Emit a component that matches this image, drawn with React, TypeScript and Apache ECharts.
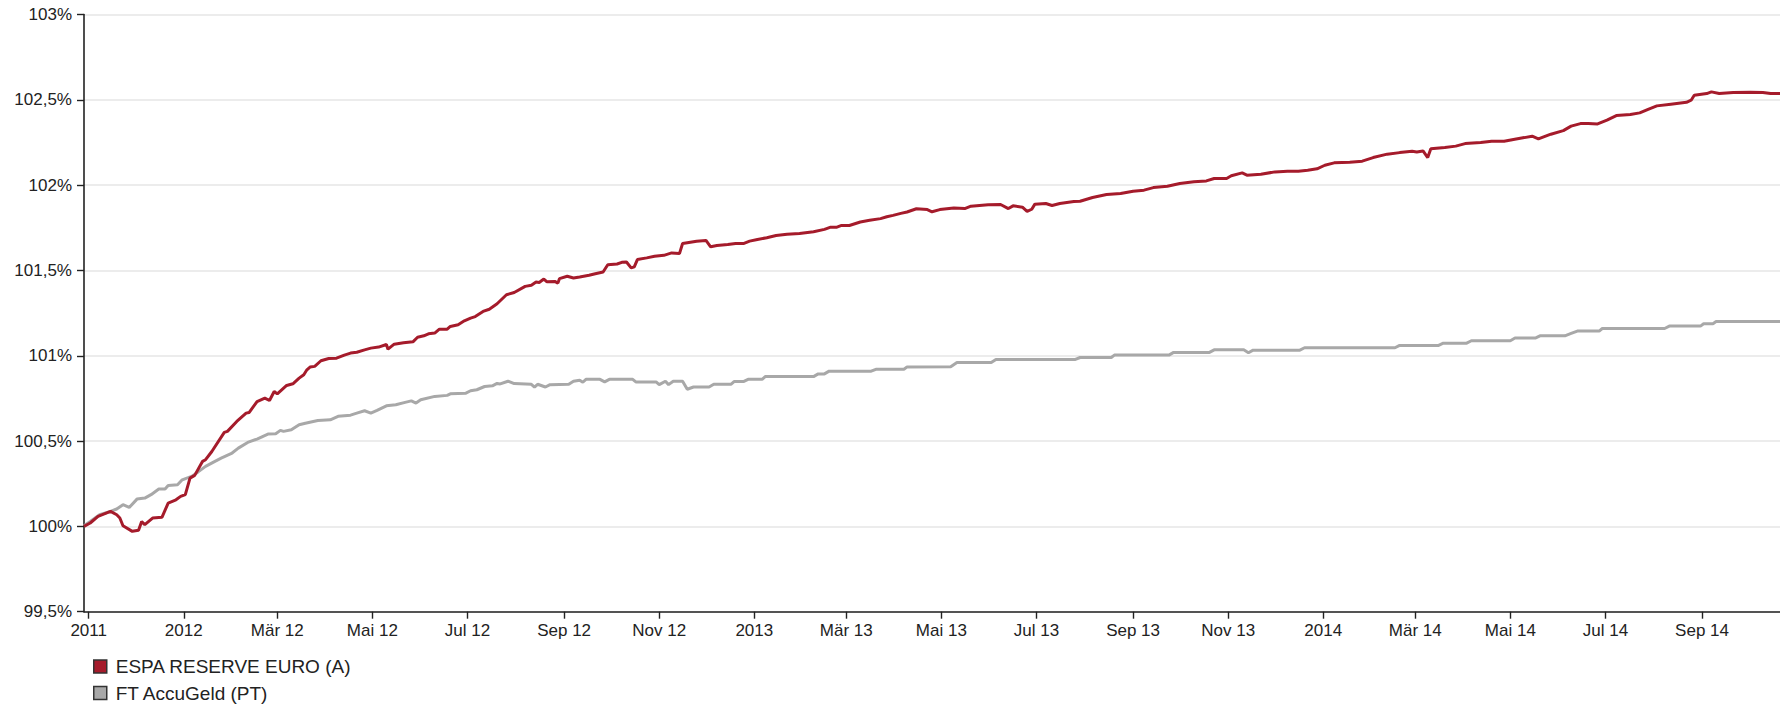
import React, { useEffect, useRef } from 'react';
import * as echarts from 'echarts';

const seriesNames = ['ESPA RESERVE EURO (A)', 'FT AccuGeld (PT)'];
const seriesColors = ['#a51b2b', '#a8a8a8'];

const espaData: [string, number][] = [
  ['2011-10-29', 100.0], ['2011-11-02', 100.02], ['2011-11-07', 100.059], ['2011-11-15', 100.088],
  ['2011-11-19', 100.068], ['2011-11-21', 100.049], ['2011-11-23', 100.004], ['2011-11-29', 99.971],
  ['2011-12-03', 99.977], ['2011-12-05', 100.029], ['2011-12-07', 100.01], ['2011-12-12', 100.049],
  ['2011-12-18', 100.053], ['2011-12-22', 100.137], ['2011-12-27', 100.156], ['2011-12-30', 100.176],
  ['2012-01-02', 100.186], ['2012-01-05', 100.283], ['2012-01-08', 100.299], ['2012-01-13', 100.381],
  ['2012-01-15', 100.391], ['2012-01-19', 100.439], ['2012-01-27', 100.551], ['2012-01-29', 100.557],
  ['2012-02-04', 100.615], ['2012-02-10', 100.664], ['2012-02-12', 100.668], ['2012-02-17', 100.732],
  ['2012-02-22', 100.752], ['2012-02-25', 100.738], ['2012-02-28', 100.791], ['2012-03-01', 100.777],
  ['2012-03-07', 100.826], ['2012-03-11', 100.836], ['2012-03-15', 100.869], ['2012-03-18', 100.889],
  ['2012-03-20', 100.918], ['2012-03-22', 100.934], ['2012-03-25', 100.938], ['2012-03-29', 100.971],
  ['2012-04-03', 100.984], ['2012-04-08', 100.986], ['2012-04-13', 101.004], ['2012-04-17', 101.016],
  ['2012-04-21', 101.021], ['2012-04-26', 101.035], ['2012-04-30', 101.045], ['2012-05-05', 101.051],
  ['2012-05-10', 101.066], ['2012-05-11', 101.039], ['2012-05-15', 101.068], ['2012-05-21', 101.076],
  ['2012-05-27', 101.082], ['2012-05-30', 101.109], ['2012-06-03', 101.117], ['2012-06-06', 101.129],
  ['2012-06-10', 101.133], ['2012-06-13', 101.156], ['2012-06-18', 101.156], ['2012-06-20', 101.172],
  ['2012-06-25', 101.182], ['2012-06-29', 101.205], ['2012-07-03', 101.221], ['2012-07-06', 101.23],
  ['2012-07-11', 101.26], ['2012-07-15', 101.273], ['2012-07-20', 101.305], ['2012-07-26', 101.358],
  ['2012-07-31', 101.371], ['2012-08-07', 101.407], ['2012-08-11', 101.413], ['2012-08-14', 101.432],
  ['2012-08-16', 101.43], ['2012-08-19', 101.45], ['2012-08-21', 101.434], ['2012-08-26', 101.436],
  ['2012-08-28', 101.426], ['2012-08-29', 101.452], ['2012-09-03', 101.466], ['2012-09-07', 101.456],
  ['2012-09-11', 101.462], ['2012-09-17', 101.472], ['2012-09-21', 101.481], ['2012-09-26', 101.491],
  ['2012-09-29', 101.534], ['2012-10-05', 101.538], ['2012-10-08', 101.548], ['2012-10-11', 101.55],
  ['2012-10-14', 101.515], ['2012-10-16', 101.521], ['2012-10-18', 101.564], ['2012-10-24', 101.574],
  ['2012-10-29', 101.583], ['2012-11-04', 101.589], ['2012-11-09', 101.603], ['2012-11-14', 101.599],
  ['2012-11-16', 101.658], ['2012-11-21', 101.666], ['2012-11-25', 101.672], ['2012-12-01', 101.676],
  ['2012-12-04', 101.639], ['2012-12-08', 101.646], ['2012-12-15', 101.652], ['2012-12-20', 101.658],
  ['2012-12-25', 101.658], ['2012-12-29', 101.672], ['2013-01-03', 101.682], ['2013-01-09', 101.692],
  ['2013-01-15', 101.705], ['2013-01-22', 101.713], ['2013-01-30', 101.717], ['2013-02-08', 101.727],
  ['2013-02-15', 101.741], ['2013-02-19', 101.754], ['2013-02-23', 101.754], ['2013-02-26', 101.764],
  ['2013-03-03', 101.764], ['2013-03-10', 101.784], ['2013-03-16', 101.794], ['2013-03-23', 101.804],
  ['2013-03-27', 101.815], ['2013-03-31', 101.823], ['2013-04-05', 101.835], ['2013-04-09', 101.843],
  ['2013-04-15', 101.862], ['2013-04-22', 101.857], ['2013-04-25', 101.844], ['2013-04-30', 101.857],
  ['2013-05-09', 101.867], ['2013-05-16', 101.863], ['2013-05-20', 101.877], ['2013-05-31', 101.885],
  ['2013-06-08', 101.887], ['2013-06-13', 101.863], ['2013-06-16', 101.879], ['2013-06-22', 101.871],
  ['2013-06-25', 101.846], ['2013-06-28', 101.859], ['2013-06-30', 101.889], ['2013-07-07', 101.893],
  ['2013-07-11', 101.881], ['2013-07-16', 101.893], ['2013-07-25', 101.904], ['2013-07-29', 101.906],
  ['2013-08-06', 101.928], ['2013-08-15', 101.945], ['2013-08-24', 101.951], ['2013-09-01', 101.965],
  ['2013-09-08', 101.971], ['2013-09-14', 101.986], ['2013-09-23', 101.994], ['2013-10-01', 102.01],
  ['2013-10-10', 102.02], ['2013-10-18', 102.025], ['2013-10-23', 102.039], ['2013-10-31', 102.039],
  ['2013-11-03', 102.055], ['2013-11-10', 102.072], ['2013-11-13', 102.059], ['2013-11-22', 102.064],
  ['2013-12-01', 102.078], ['2013-12-09', 102.082], ['2013-12-16', 102.082], ['2013-12-22', 102.088],
  ['2013-12-28', 102.096], ['2014-01-02', 102.117], ['2014-01-08', 102.131], ['2014-01-18', 102.135],
  ['2014-01-26', 102.141], ['2014-02-02', 102.162], ['2014-02-11', 102.182], ['2014-02-19', 102.191],
  ['2014-02-27', 102.199], ['2014-03-02', 102.195], ['2014-03-06', 102.201], ['2014-03-09', 102.162],
  ['2014-03-11', 102.213], ['2014-03-20', 102.221], ['2014-03-27', 102.229], ['2014-04-02', 102.244],
  ['2014-04-12', 102.25], ['2014-04-19', 102.258], ['2014-04-27', 102.258], ['2014-05-03', 102.268],
  ['2014-05-10', 102.279], ['2014-05-15', 102.287], ['2014-05-19', 102.271], ['2014-05-27', 102.299],
  ['2014-06-04', 102.32], ['2014-06-09', 102.346], ['2014-06-15', 102.361], ['2014-06-20', 102.361],
  ['2014-06-26', 102.359], ['2014-07-02', 102.381], ['2014-07-08', 102.408], ['2014-07-17', 102.414],
  ['2014-07-23', 102.424], ['2014-07-28', 102.443], ['2014-08-03', 102.465], ['2014-08-12', 102.475],
  ['2014-08-22', 102.486], ['2014-08-25', 102.498], ['2014-08-27', 102.527], ['2014-09-04', 102.537],
  ['2014-09-07', 102.547], ['2014-09-12', 102.537], ['2014-09-21', 102.543], ['2014-10-02', 102.545],
  ['2014-10-10', 102.543], ['2014-10-15', 102.537], ['2014-10-21', 102.537],
];

const ftData: [string, number][] = [
  ['2011-10-29', 100.004], ['2011-11-02', 100.029], ['2011-11-08', 100.068], ['2011-11-15', 100.088],
  ['2011-11-19', 100.102], ['2011-11-23', 100.127], ['2011-11-27', 100.111], ['2011-12-02', 100.16],
  ['2011-12-07', 100.166], ['2011-12-11', 100.186], ['2011-12-16', 100.219], ['2011-12-20', 100.219],
  ['2011-12-22', 100.24], ['2011-12-28', 100.244], ['2011-12-31', 100.273], ['2012-01-06', 100.293],
  ['2012-01-10', 100.318], ['2012-01-15', 100.352], ['2012-01-21', 100.381], ['2012-01-25', 100.4],
  ['2012-02-01', 100.43], ['2012-02-05', 100.459], ['2012-02-11', 100.492], ['2012-02-17', 100.512],
  ['2012-02-24', 100.541], ['2012-02-29', 100.543], ['2012-03-03', 100.563], ['2012-03-05', 100.557],
  ['2012-03-10', 100.566], ['2012-03-15', 100.596], ['2012-03-19', 100.605], ['2012-03-27', 100.621],
  ['2012-04-04', 100.625], ['2012-04-09', 100.645], ['2012-04-17', 100.652], ['2012-04-21', 100.664],
  ['2012-04-26', 100.678], ['2012-04-30', 100.664], ['2012-05-04', 100.68], ['2012-05-10', 100.707],
  ['2012-05-16', 100.713], ['2012-05-22', 100.727], ['2012-05-26', 100.736], ['2012-05-29', 100.723],
  ['2012-06-01', 100.742], ['2012-06-10', 100.762], ['2012-06-18', 100.768], ['2012-06-20', 100.777],
  ['2012-06-30', 100.781], ['2012-07-03', 100.795], ['2012-07-07', 100.801], ['2012-07-12', 100.82],
  ['2012-07-17', 100.824], ['2012-07-20', 100.838], ['2012-07-22', 100.835], ['2012-07-27', 100.851],
  ['2012-07-31', 100.837], ['2012-08-11', 100.833], ['2012-08-13', 100.817], ['2012-08-15', 100.833],
  ['2012-08-20', 100.817], ['2012-08-23', 100.831], ['2012-09-04', 100.833], ['2012-09-07', 100.851],
  ['2012-09-11', 100.857], ['2012-09-13', 100.845], ['2012-09-15', 100.862], ['2012-09-24', 100.862],
  ['2012-09-27', 100.847], ['2012-09-30', 100.862], ['2012-10-15', 100.862], ['2012-10-17', 100.847],
  ['2012-10-30', 100.847], ['2012-11-01', 100.831], ['2012-11-05', 100.851], ['2012-11-07', 100.831],
  ['2012-11-10', 100.851], ['2012-11-16', 100.851], ['2012-11-19', 100.804], ['2012-11-23', 100.817],
  ['2012-12-03', 100.817], ['2012-12-06', 100.833], ['2012-12-17', 100.833], ['2012-12-19', 100.849],
  ['2012-12-25', 100.849], ['2012-12-28', 100.862], ['2013-01-06', 100.862], ['2013-01-08', 100.878],
  ['2013-02-08', 100.878], ['2013-02-11', 100.894], ['2013-02-15', 100.894], ['2013-02-18', 100.91],
  ['2013-03-17', 100.91], ['2013-03-20', 100.921], ['2013-04-07', 100.921], ['2013-04-09', 100.935],
  ['2013-05-07', 100.936], ['2013-05-11', 100.961], ['2013-06-02', 100.961], ['2013-06-05', 100.979],
  ['2013-07-26', 100.979], ['2013-07-29', 100.99], ['2013-08-18', 100.99], ['2013-08-20', 101.004],
  ['2013-09-24', 101.004], ['2013-09-27', 101.02], ['2013-10-20', 101.02], ['2013-10-23', 101.035],
  ['2013-11-11', 101.035], ['2013-11-14', 101.018], ['2013-11-17', 101.033], ['2013-12-17', 101.033],
  ['2013-12-20', 101.047], ['2014-02-16', 101.047], ['2014-02-19', 101.061], ['2014-03-16', 101.061],
  ['2014-03-19', 101.074], ['2014-04-03', 101.074], ['2014-04-06', 101.088], ['2014-05-01', 101.088],
  ['2014-05-04', 101.104], ['2014-05-17', 101.104], ['2014-05-20', 101.117], ['2014-06-05', 101.117],
  ['2014-06-09', 101.131], ['2014-06-13', 101.145], ['2014-06-27', 101.145], ['2014-06-29', 101.16],
  ['2014-08-08', 101.16], ['2014-08-11', 101.174], ['2014-08-31', 101.174], ['2014-09-02', 101.188],
  ['2014-09-08', 101.188], ['2014-09-10', 101.201], ['2014-10-21', 101.201],
];

const xTickDates = [
  '2011-11-01', '2012-01-01', '2012-03-01', '2012-05-01', '2012-07-01', '2012-09-01',
  '2012-11-01', '2013-01-01', '2013-03-01', '2013-05-01', '2013-07-01', '2013-09-01',
  '2013-11-01', '2014-01-01', '2014-03-01', '2014-05-01', '2014-07-01', '2014-09-01',
];
const xTickLabels = [
  '2011', '2012', 'Mär 12', 'Mai 12', 'Jul 12', 'Sep 12',
  'Nov 12', '2013', 'Mär 13', 'Mai 13', 'Jul 13', 'Sep 13',
  'Nov 13', '2014', 'Mär 14', 'Mai 14', 'Jul 14', 'Sep 14',
];
const xRange = ['2011-10-29', '2014-10-21'];
const yRange = [99.5, 103];
const yStep = 0.5;

const FONT = '"Liberation Sans", Arial, Helvetica, sans-serif';

function toTs(s: string): number {
  const [y, m, d] = s.split('-').map(Number);
  return Date.UTC(y, m - 1, d);
}

export default function App() {
  const ref = useRef<HTMLDivElement>(null);

  useEffect(() => {
    if (!ref.current) return;
    const chart = echarts.init(ref.current, null, { renderer: 'svg' });
    const tickTs = xTickDates.map(toTs);
    const labelFor = (v: number) => {
      for (let i = 0; i < tickTs.length; i++) {
        if (Math.abs(tickTs[i] - v) < 43200000) return xTickLabels[i];
      }
      return '';
    };
    const yFormat = (v: number) => {
      const r = Math.round(v * 10) / 10;
      const s = Number.isInteger(r) ? r.toFixed(0) : r.toFixed(1).replace('.', ',');
      return s + '%';
    };
    const toPoints = (arr: [string, number][]) => arr.map(([d, v]) => [toTs(d), v]);
    chart.setOption({
      animation: false,
      backgroundColor: '#ffffff',
      grid: { left: 84, right: 0, top: 14.6, bottom: 94.3, containLabel: false },
      xAxis: {
        type: 'value',
        min: toTs(xRange[0]),
        max: toTs(xRange[1]),
        axisLine: { show: true, onZero: false, lineStyle: { color: '#222', width: 1.6 } },
        axisTick: { show: true, length: 7, lineStyle: { color: '#222', width: 1.4 }, customValues: tickTs },
        axisLabel: {
          customValues: tickTs,
          formatter: labelFor,
          color: '#222',
          fontSize: 17,
          fontFamily: FONT,
          margin: 10,
        },
        splitLine: { show: false },
      },
      yAxis: {
        type: 'value',
        min: yRange[0],
        max: yRange[1],
        interval: yStep,
        axisLine: { show: true, lineStyle: { color: '#222', width: 1.6 } },
        axisTick: { show: true, length: 7, inside: false, lineStyle: { color: '#222', width: 1.4 } },
        axisLabel: { formatter: yFormat, color: '#222', fontSize: 17, fontFamily: FONT, margin: 12 },
        splitLine: { show: true, lineStyle: { color: '#e6e6e6', width: 1.5 } },
      },
      legend: {
        orient: 'vertical',
        left: 93,
        top: 656.5,
        padding: 0,
        height: 60,
        icon: 'rect',
        itemWidth: 13,
        itemHeight: 13,
        itemGap: 6.5,
        selectedMode: false,
        data: seriesNames,
        itemStyle: { borderColor: '#333', borderWidth: 1.5 },
        textStyle: { color: '#222', fontSize: 19, fontFamily: FONT, lineHeight: 20, padding: [0, 0, 0, 4] },
      },
      series: [
        {
          name: seriesNames[1],
          type: 'line',
          data: toPoints(ftData),
          symbol: 'none',
          showSymbol: false,
          z: 2,
          itemStyle: { color: seriesColors[1] },
          lineStyle: { color: seriesColors[1], width: 3 },
        },
        {
          name: seriesNames[0],
          type: 'line',
          data: toPoints(espaData),
          symbol: 'none',
          showSymbol: false,
          z: 3,
          itemStyle: { color: seriesColors[0] },
          lineStyle: { color: seriesColors[0], width: 3 },
        },
      ],
    });
    return () => chart.dispose();
  }, []);

  return (
    <div
      ref={ref}
      style={{ position: 'absolute', left: 0, top: 0, width: 1780, height: 706, background: '#fff' }}
    />
  );
}
